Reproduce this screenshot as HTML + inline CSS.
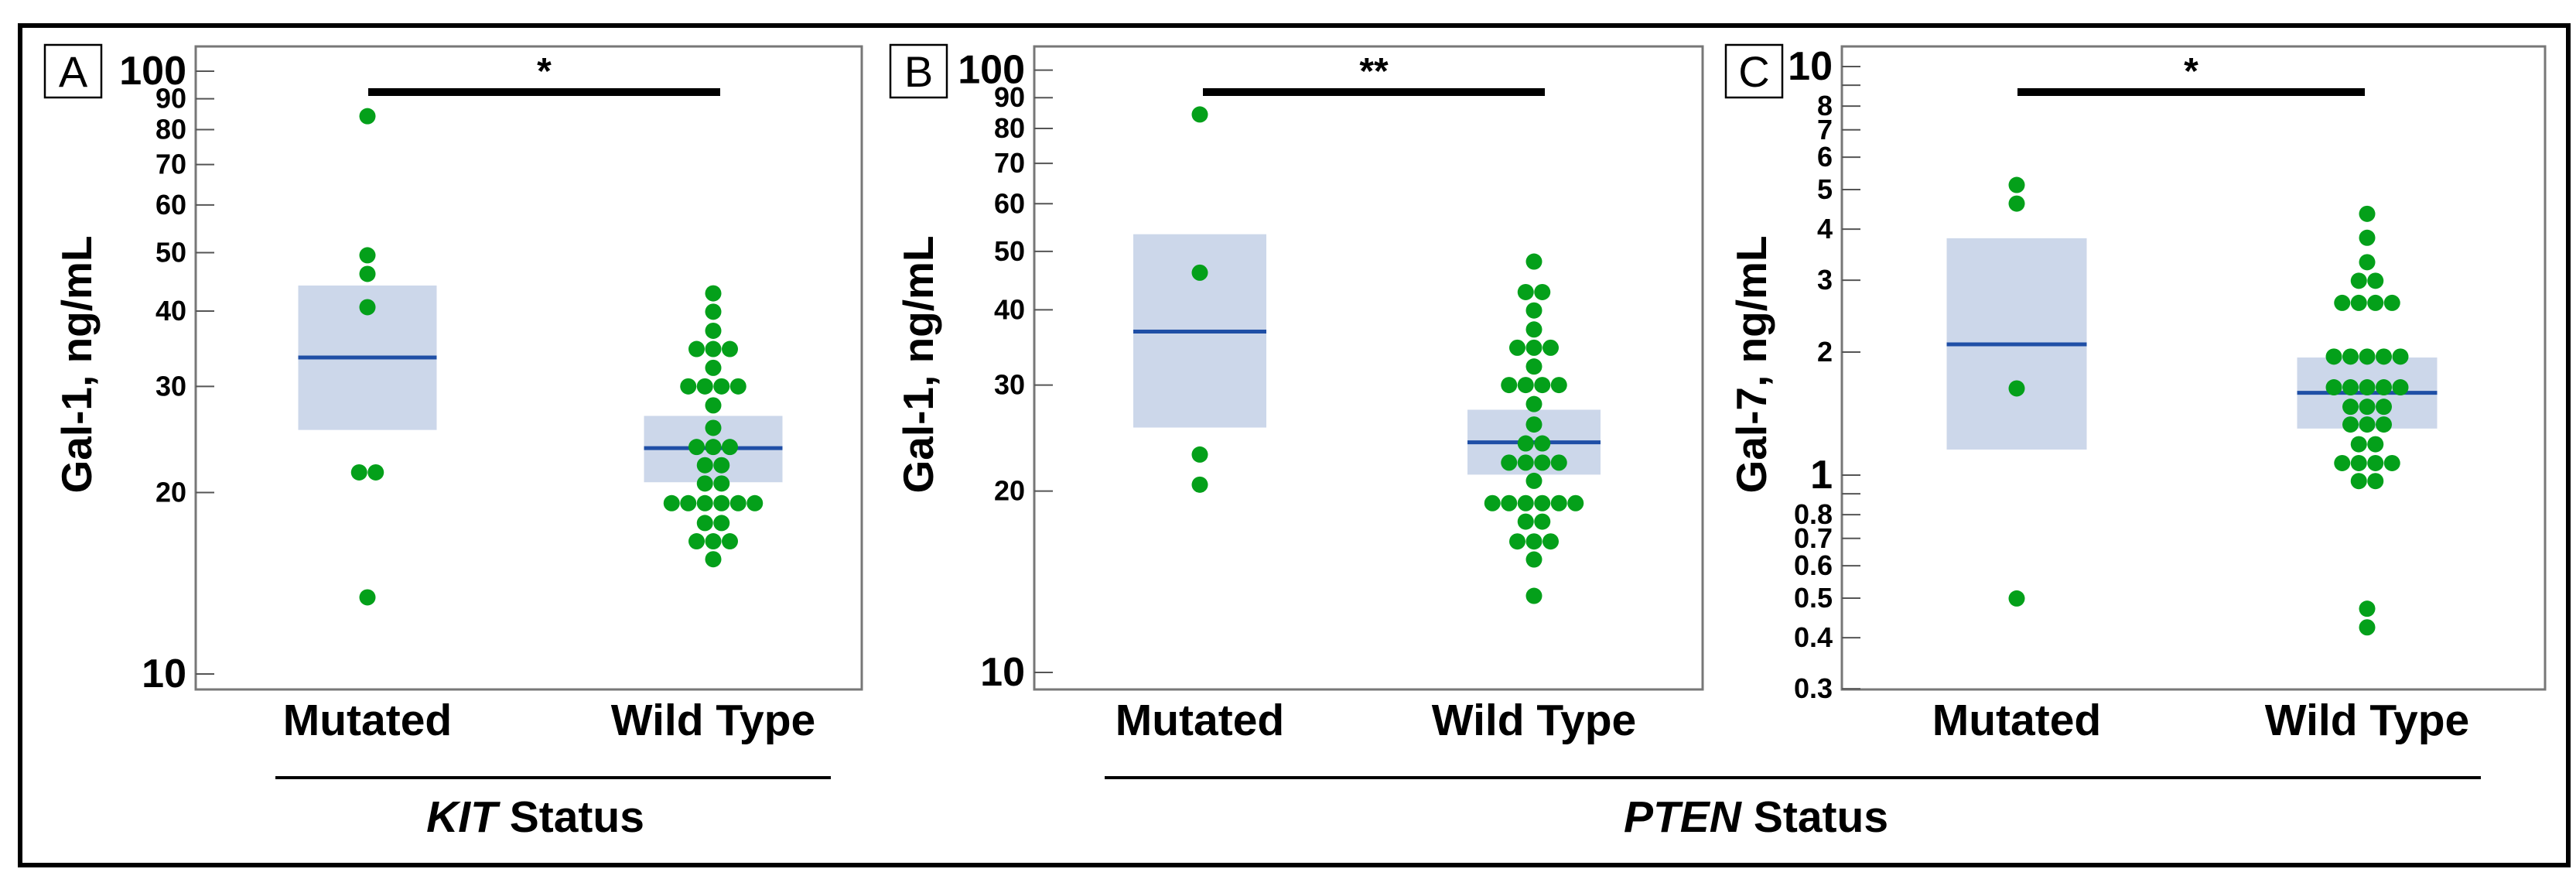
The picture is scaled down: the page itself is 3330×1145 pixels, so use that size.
<!DOCTYPE html>
<html><head><meta charset="utf-8"><style>
html,body{margin:0;padding:0;background:#fff;}
svg{display:block;font-family:"Liberation Sans",Arial,sans-serif;}
</style></head><body>
<svg id="fig" width="3330" height="1145" viewBox="0 0 3330 1145" xmlns="http://www.w3.org/2000/svg">
<rect x="26" y="33" width="3294" height="1085" fill="none" stroke="#000" stroke-width="6"/>
<g id="panels"></g>
</svg>
<script>
const categories = ["Mutated", "Wild Type"];
// Panel A: Gal-1 by KIT status
const aMutated = [84.2, 49.5, 46.1, 40.6, 21.6, 21.6, 13.4];
const aWildRowValues = [42.8, 39.9, 37.1, 34.6, 32.2, 30.0, 27.9, 25.6, 23.8, 22.2, 20.7, 19.2, 17.8, 16.6, 15.5];
const aWildRowCounts = [1, 1, 1, 3, 1, 4, 1, 1, 3, 2, 2, 6, 2, 3, 1];
const aBoxMutated = [25.4, 33.5, 44.1];
const aBoxWild = [20.8, 23.7, 26.8];
const aTicks = [10, 20, 30, 40, 50, 60, 70, 80, 90, 100];
// Panel B: Gal-1 by PTEN status
const bMutated = [84.4, 46.1, 23.0, 20.5];
const bWildRowValues = [48.1, 42.8, 39.9, 37.1, 34.6, 32.2, 30.0, 27.9, 25.8, 24.0, 22.3, 20.8, 19.1, 17.8, 16.5, 15.4, 13.4];
const bWildRowCounts = [1, 2, 1, 1, 3, 1, 4, 1, 1, 2, 4, 1, 6, 2, 3, 1, 1];
const bBoxMutated = [25.5, 36.8, 53.4];
const bBoxWild = [21.3, 24.1, 27.3];
const bTicks = [10, 20, 30, 40, 50, 60, 70, 80, 90, 100];
// Panel C: Gal-7 by PTEN status
const cMutated = [5.13, 4.62, 1.63, 0.499];
const cWildRowValues = [4.36, 3.81, 3.32, 2.99, 2.64, 1.95, 1.64, 1.47, 1.33, 1.19, 1.07, 0.967, 0.471, 0.424];
const cWildRowCounts = [1, 1, 1, 2, 4, 5, 5, 3, 3, 2, 4, 2, 1, 1];
const cBoxMutated = [1.155, 2.09, 3.80];
const cBoxWild = [1.30, 1.59, 1.94];
const cTicks = [0.3, 0.4, 0.5, 0.6, 0.7, 0.8, 0.9, 1, 2, 3, 4, 5, 6, 7, 8, 9, 10];
const cTickLabels = ["0.3","0.4","0.5","0.6","0.7","0.8","","1","2","3","4","5","6","7","8","","10"];
const abTickLabels = ["10","20","30","40","50","60","70","80","90","100"];

const NS = "http://www.w3.org/2000/svg";
const root = document.getElementById("panels");
function mk(tag, attrs, parent, text) {
  const e = document.createElementNS(NS, tag);
  for (const k in attrs) e.setAttribute(k, attrs[k]);
  if (text !== undefined) e.textContent = text;
  (parent || root).appendChild(e);
  return e;
}

function panel(cfg) {
  const g = mk("g", {});
  
  
  const L = cfg.left, R = cfg.right, T = 60, B = 891;
  const ly0 = Math.log10(cfg.refLo), ly1 = Math.log10(cfg.refHi);
  const y = v => cfg.yLo + (Math.log10(v) - ly0) / (ly1 - ly0) * (cfg.yHi - cfg.yLo);
  const x = i => cfg.cx[i];
  // boxes
  const boxes = [cfg.boxM, cfg.boxW];
  boxes.forEach((bx, i) => {
    const r = mk("rect", {x: x(i) - cfg.bw / 2, y: y(bx[2]), width: cfg.bw, height: y(bx[0]) - y(bx[2]), fill: "#ccd7ea"}, g);
    
    
    const m = mk("line", {x1: x(i) - cfg.bw / 2, x2: x(i) + cfg.bw / 2, y1: y(bx[1]), y2: y(bx[1]), stroke: "#1f4fa6", "stroke-width": 5}, g);
    
    
  });
  // mutated dots (group equal values)
  const sp = 21.5, rad = 10.5;
  const groups = {};
  cfg.mut.forEach(v => { groups[v] = (groups[v] || 0) + 1; });
  Object.keys(groups).forEach(k => {
    const n = groups[k];
    for (let j = 0; j < n; j++) {
      const c = mk("circle", {cx: x(0) + (j - (n - 1) / 2) * sp, cy: y(+k), r: rad, fill: "#04a01a"}, g);
      
      
    }
  });
  cfg.wildVals.forEach((v, ri) => {
    const n = cfg.wildCounts[ri];
    for (let j = 0; j < n; j++) {
      const c = mk("circle", {cx: x(1) + (j - (n - 1) / 2) * sp, cy: y(v), r: rad, fill: "#04a01a"}, g);
      
      
    }
  });
  // plot frame
  const fr = mk("rect", {x: L, y: T, width: R - L, height: B - T, fill: "none", stroke: "#777", "stroke-width": 3}, g);
  
  
  // ticks
  cfg.ticks.forEach((t, i) => {
    const ty = y(t);
    const tk = mk("line", {x1: L, x2: L + 24, y1: ty, y2: ty, stroke: "#555", "stroke-width": 2}, g);
    
    
    const lab = cfg.tickLabels[i];
    if (lab) {
      const big = cfg.bigLabels.indexOf(lab) >= 0;
      const tx = mk("text", {x: L - 12, y: ty + (big ? 17 : 12), "text-anchor": "end", "font-size": big ? 52 : 36, "font-weight": "bold"}, g, lab);
      
      
    }
  });
  // y title
  const yt = mk("text", {x: 0, y: 0, transform: `translate(${cfg.titleX},471) rotate(-90)`, "text-anchor": "middle", "font-size": 55, "font-weight": "bold"}, g, cfg.yTitle);
  
  
  // panel letter
  const lb = mk("rect", {x: cfg.letterX, y: 58, width: 73, height: 68, fill: "#fff", stroke: "#000", "stroke-width": 2.5}, g);
  
  
  const lt = mk("text", {x: cfg.letterX + 36.5, y: 112, "text-anchor": "middle", "font-size": 56}, g, cfg.letter);
  
  
  // category labels
  categories.forEach((c, i) => {
    const t = mk("text", {x: x(i), y: 950, "text-anchor": "middle", "font-size": 57, "font-weight": "bold"}, g, c);
    
    
  });
  // significance bar
  const sb = mk("rect", {x: cfg.sig[0], y: 114, width: cfg.sig[1] - cfg.sig[0], height: 10, fill: "#000"}, g);
  
  
  const st = mk("text", {x: (cfg.sig[0] + cfg.sig[1]) / 2, y: 108, "text-anchor": "middle", "font-size": 48, "font-weight": "bold"}, g, cfg.stars);
  
  
}

panel({letter: "A", left: 253, right: 1114, refLo: 10, refHi: 100, yLo: 871, yHi: 92, cx: [475, 922], bw: 179,
  boxM: aBoxMutated, boxW: aBoxWild, mut: aMutated, wildVals: aWildRowValues, wildCounts: aWildRowCounts,
  ticks: aTicks, tickLabels: abTickLabels, bigLabels: ["10", "100"], titleX: 118, yTitle: "Gal-1, ng/mL", letterX: 58,
  sig: [476, 931], stars: "*"});
panel({letter: "B", left: 1337, right: 2201, refLo: 10, refHi: 100, yLo: 869, yHi: 90.6, cx: [1551, 1983], bw: 172,
  boxM: bBoxMutated, boxW: bBoxWild, mut: bMutated, wildVals: bWildRowValues, wildCounts: bWildRowCounts,
  ticks: bTicks, tickLabels: abTickLabels, bigLabels: ["10", "100"], titleX: 1206, yTitle: "Gal-1, ng/mL", letterX: 1151,
  sig: [1555, 1997], stars: "**"});
panel({letter: "C", left: 2381, right: 3290, refLo: 1, refHi: 10, yLo: 614, yHi: 86, cx: [2607, 3060], bw: 181,
  boxM: cBoxMutated, boxW: cBoxWild, mut: cMutated, wildVals: cWildRowValues, wildCounts: cWildRowCounts,
  ticks: cTicks, tickLabels: cTickLabels, bigLabels: ["10", "1"], titleX: 2283, yTitle: "Gal-7, ng/mL", letterX: 2231,
  sig: [2608, 3057], stars: "*"});

// group lines and titles
const gl1 = mk("line", {x1: 356, x2: 1074, y1: 1005, y2: 1005, stroke: "#000", "stroke-width": 4});


const gt1 = mk("text", {x: 692, y: 1075, "text-anchor": "middle", "font-size": 57, "font-weight": "bold"});


mk("tspan", {"font-style": "italic"}, gt1, "KIT");
mk("tspan", {}, gt1, " Status");
const gl2 = mk("line", {x1: 1428, x2: 3207, y1: 1005, y2: 1005, stroke: "#000", "stroke-width": 4});


const gt2 = mk("text", {x: 2270, y: 1075, "text-anchor": "middle", "font-size": 57, "font-weight": "bold"});


mk("tspan", {"font-style": "italic"}, gt2, "PTEN");
mk("tspan", {}, gt2, " Status");
</script>
</body></html>
